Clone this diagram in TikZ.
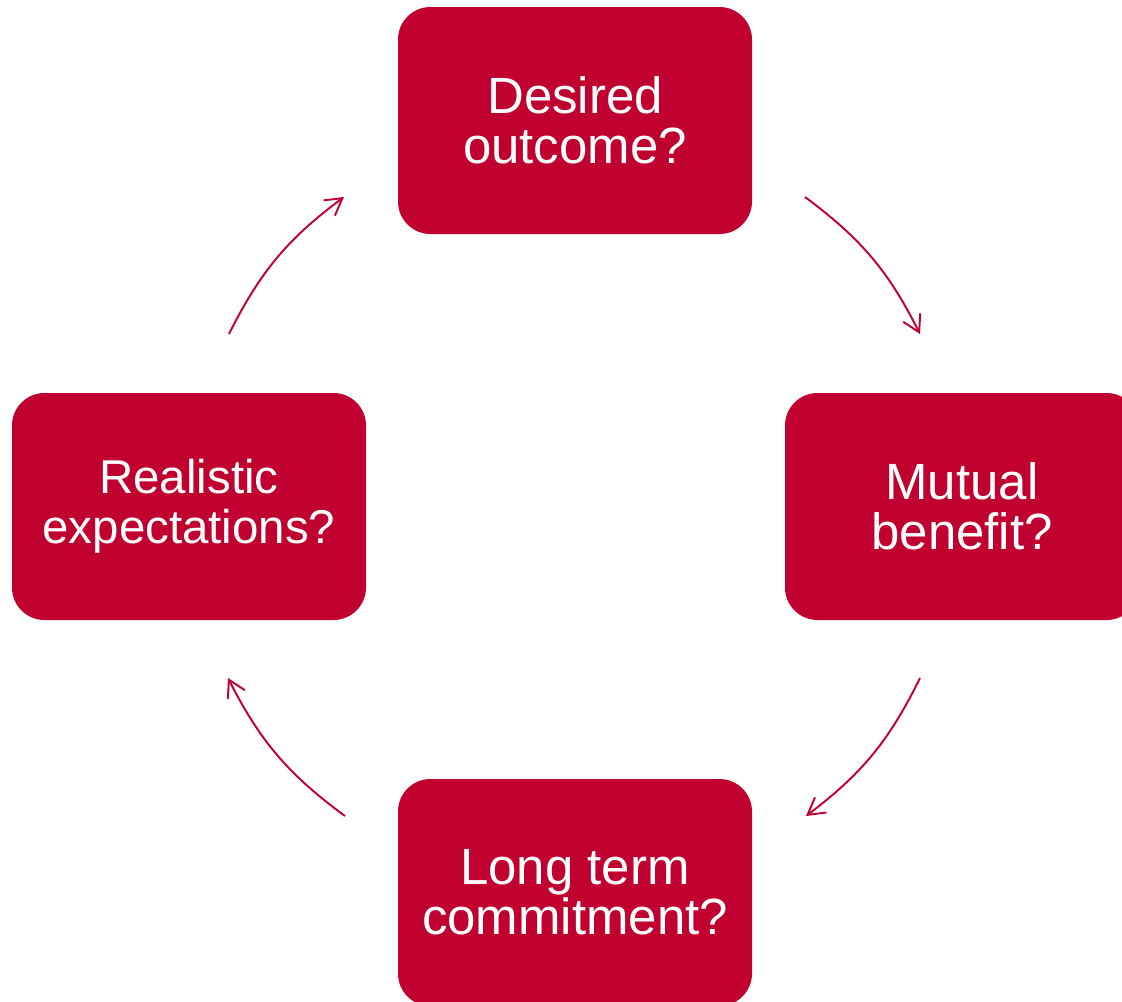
\documentclass[tikz,border=0pt]{standalone}
\usepackage{fontspec}
\setmainfont{Liberation Sans}
\usetikzlibrary{arrows.meta}
\definecolor{crimson}{RGB}{192,0,47}
\tikzset{
    qbox/.style={fill=crimson, rounded corners=0.65cm, minimum width=7.08cm, minimum height=4.54cm,
        text=white, align=center, font=\fontsize{29}{28.5}\selectfont, inner sep=0pt},
    cyc/.style={draw=crimson, line width=1.1pt, -{Straight Barb[length=3.3mm,width=3.8mm]}}
}
\begin{document}
\begin{tikzpicture}
                \useasboundingbox (0,0) rectangle (22.44,-20.02);
                \node[qbox] (do) at (11.5,-2.41) {Desired\\outcome?};
                \node[qbox] (mb) at (19.24,-10.13) {Mutual\\benefit?};
                \node[qbox] (ltc) at (11.5,-17.85) {Long term\\commitment?};
                \node[qbox, font=\fontsize{27}{28.5}\selectfont] (re) at (3.78,-10.13) {Realistic\\expectations?};

                \coordinate (do-out) at (16.1,-3.94);
                \coordinate (mb-in) at (18.4,-6.68);
                \coordinate (mb-out) at (18.4,-13.56);
                \coordinate (ltc-in) at (16.12,-16.32);
                \coordinate (ltc-out) at (6.9,-16.32);
                \coordinate (re-in) at (4.56,-13.56);
                \coordinate (re-out) at (4.58,-6.68);
                \coordinate (do-in) at (6.88,-3.94);

                \draw[cyc] (do-out) to[bend left=13.4] (mb-in);
                \draw[cyc] (mb-out) to[bend left=13.4] (ltc-in);
                \draw[cyc] (ltc-out) to[bend left=13.4] (re-in);
                \draw[cyc] (re-out) to[bend left=13.4] (do-in);
            \end{tikzpicture}
\end{document}
